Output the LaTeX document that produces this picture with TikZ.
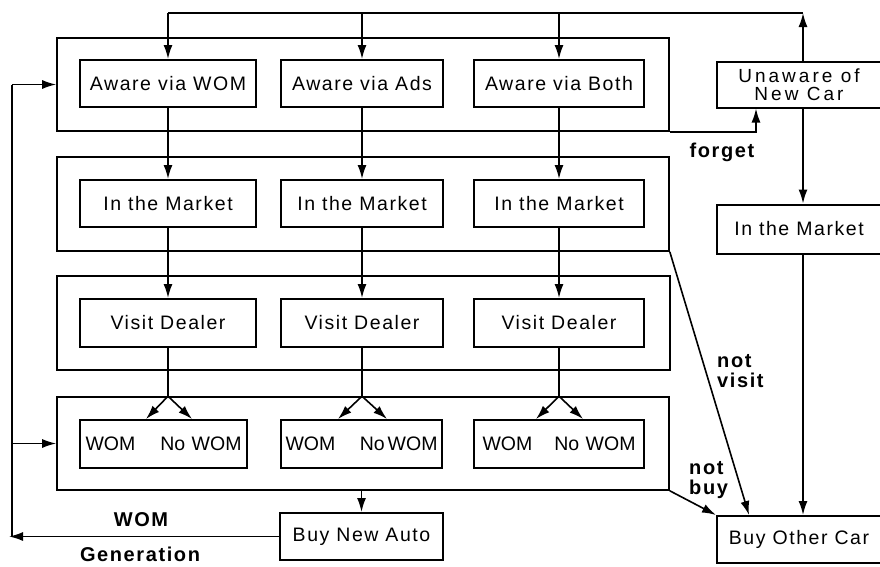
\documentclass[tikz,border=0pt]{standalone}
\usepackage{fontspec}
\setmainfont{Liberation Sans}[LetterSpace=8]
\usetikzlibrary{arrows.meta,calc}
\begin{document}
\begin{tikzpicture}[x=1pt,y=-1pt,
  box/.style={draw,line width=2pt,minimum height=47pt,inner sep=0pt,font=\fontsize{19.5}{19}\selectfont},
  wbox/.style={box,align=left,font=\fontsize{19.5}{19}\selectfont\addfontfeature{LetterSpace=0}},
  group/.style={draw,line width=1.6pt,inner sep=0pt},
  conn/.style={line width=1.6pt},
  arr/.style={conn,-{Latex[length=14pt,width=9pt]}},
  lbl/.style={font=\fontsize{20}{20}\selectfont\bfseries,inner sep=0pt,align=left}]
\useasboundingbox (0,0) rectangle (880,566);
% group frames
\node[group,minimum width=612pt,minimum height=93pt] (g1) at (363,84.5) {};
\node[group,minimum width=612pt,minimum height=94pt] (g2) at (363,204) {};
\node[group,minimum width=613pt,minimum height=94pt] (g3) at (363.5,323) {};
\node[group,minimum width=612pt,minimum height=93pt] (g4) at (363,443.5) {};
% boxes
\node[box,minimum width=176pt] (aw1) at (168,83.5) {Aware via WOM};
\node[box,minimum width=162pt] (aw2) at (362,83.5) {Aware via Ads};
\node[box,minimum width=170pt] (aw3) at (559,83.5) {Aware via Both};
\node[box,minimum width=176pt] (m1) at (168,203.5) {In the Market};
\node[box,minimum width=162pt] (m2) at (362,203.5) {In the Market};
\node[box,minimum width=170pt] (m3) at (559,203.5) {In the Market};
\node[box,minimum width=176pt,minimum height=48pt] (v1) at (168,323) {Visit Dealer};
\node[box,minimum width=162pt,minimum height=48pt] (v2) at (362,323) {Visit Dealer};
\node[box,minimum width=170pt,minimum height=48pt] (v3) at (559,323) {Visit Dealer};
\node[wbox,minimum width=167pt,minimum height=48pt,text width=156pt] (w1) at (163.5,444) {WOM\hfill No WOM};
\node[wbox,minimum width=161pt,minimum height=48pt,text width=152pt] (w2) at (361.5,444) {WOM\hfill No\kern3pt WOM};
\node[wbox,minimum width=170pt,minimum height=48pt,text width=153pt] (w3) at (559,444) {WOM\hfill No WOM};
\node[box,minimum width=163pt] (bna) at (361.5,536.5) {Buy New Auto};
\node[box,minimum width=164pt,minimum height=46pt,align=center,font=\fontsize{19}{18}\selectfont\addfontfeature{LetterSpace=16}] (un) at (799,84.5) {Unaware of\\New Car};
\node[box,minimum width=164pt,minimum height=49pt] (mr) at (799,229) {In the Market};
\node[box,minimum width=164pt,minimum height=47pt] (boc) at (799,539.5) {Buy Other Car};
% top feedback
\coordinate (tr) at (803,13);
\coordinate (tl) at (168,13);
\draw[arr] (un.north -| tr) -- (tr);
\draw[conn] (tr) -- (tl);
\draw[arr] (tl) -- (aw1.north);
\draw[arr] (aw2.north |- tr) -- (aw2.north);
\draw[arr] (aw3.north |- tr) -- (aw3.north);
% column flows
\draw[arr] (aw1.south) -- (m1.north);
\draw[arr] (aw2.south) -- (m2.north);
\draw[arr] (aw3.south) -- (m3.north);
\draw[arr] (m1.south) -- (v1.north);
\draw[arr] (m2.south) -- (v2.north);
\draw[arr] (m3.south) -- (v3.north);
\coordinate (f1) at (v1.south |- g4.north);
\coordinate (f2) at (v2.south |- g4.north);
\coordinate (f3) at (v3.south |- g4.north);
\draw[conn] (v1.south) -- (f1);
\draw[conn] (v2.south) -- (f2);
\draw[conn] (v3.south) -- (f3);
\draw[arr] (f1) -- ($(f1 |- w1.north)+(-22,0)$);
\draw[arr] (f1) -- ($(f1 |- w1.north)+(24,0)$);
\draw[arr] (f2) -- ($(f2 |- w2.north)+(-24,0)$);
\draw[arr] (f2) -- ($(f2 |- w2.north)+(25,0)$);
\draw[arr] (f3) -- ($(f3 |- w3.north)+(-23,0)$);
\draw[arr] (f3) -- ($(f3 |- w3.north)+(24,0)$);
\draw[arr] (bna.north |- g4.south) -- (bna.north);
% left WOM generation loop
\coordinate (lb) at (9,536.5);
\coordinate (lv) at (12,536.5);
\coordinate (lt) at (12,84.5);
\draw[arr] (bna.west) -- (lb);
\draw[conn] (lv) -- (lt);
\draw[arr] (lt) -- (g1.west);
\draw[arr] (lv |- g4.west) -- (g4.west);
% right side
\draw[arr] (g1.south east) -| ($(un.south west)+(40,0)$);
\draw[arr] (un.south -| tr) -- (mr.north -| tr);
\draw[arr] (mr.south -| tr) -- (boc.north -| tr);
\draw[arr] (g2.south east) -- ($(boc.north west)+(33,0)$);
\draw[arr] (g4.south east) -- (boc.north west);
% labels
\node[lbl] (lforget) at (722,152) {forget};
\node[lbl,anchor=north west] (lnv) at (717,354) {not\\visit};
\node[lbl,anchor=north west] (lnb) at (689,461) {not\\buy};
\node[lbl] (lwom) at (141,520) {WOM};
\node[lbl] (lgen) at (140,554) {Generation};
\end{tikzpicture}
\end{document}
